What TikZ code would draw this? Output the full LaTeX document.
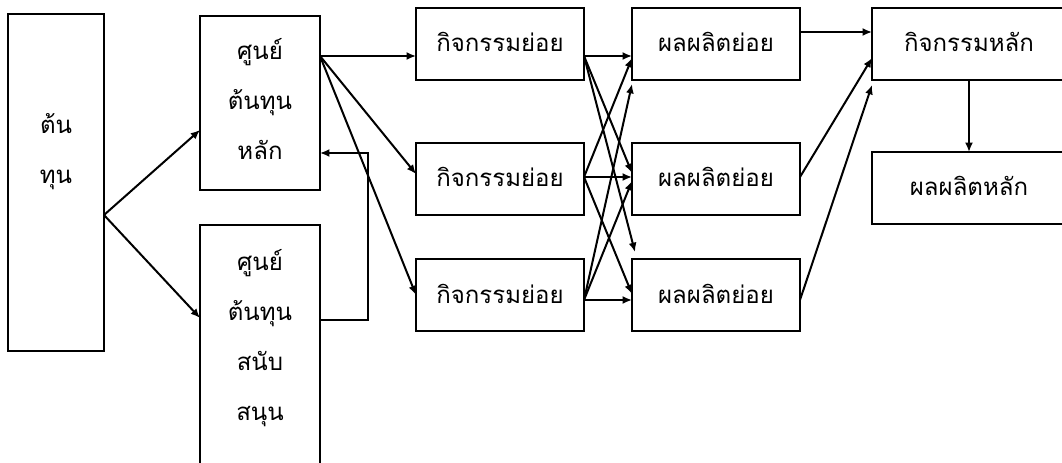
\documentclass[tikz,border=0pt]{standalone}
\usepackage{fontspec}
\newfontfamily\thai[Script=Thai]{Loma}
\usetikzlibrary{shapes,arrows.meta}
\usetikzlibrary{positioning}
\usetikzlibrary{calc}

\begin{document}
\begin{tikzpicture}[x=0.75pt,y=-0.75pt,node distance=36pt,auto,>={Latex[length=7pt,width=6pt]},line width=1.5pt]
\tikzstyle{every node}=[font=\thai\fontsize{18pt}{37.5pt}\selectfont]
\tikzstyle{kong}=[draw,align=center,inner ysep=0pt,outer sep=0pt,text height=33pt,text depth=21pt,minimum width=126pt]
\useasboundingbox (0,0) rectangle (1062,463);
\path node[kong,minimum width=72pt,text height=127.5pt,text depth=125.25pt] (t) at (56,182.5) {ต้น\\ทุน};
\path node[kong,minimum width=90pt,text height=108pt,text depth=22.5pt] (s1) at (260,103) {ศูนย์\\ต้นทุน\\หลัก};
\path node[kong,minimum width=90pt,text height=146.25pt,text depth=75pt,below=26.25pt of s1] (s2) {ศูนย์\\ต้นทุน\\สนับ\\สนุน};
\path[->] ($(t.east)+(0,32.5)$) edge ($(s1.west)+(0,27)$);
\path[->] ($(t.east)+(0,32.5)$) edge ($(s2.north west)+(0,93)$);
\path[->,draw] ($(s2.north east)+(0,95)$) -- +(48,0) |- ($(s1.east)+(0,50)$);

\path node[kong] (k1) at (500,44) {กิจกรรมย่อย};
\path node[kong,below=47.25pt of k1] (k2) {กิจกรรมย่อย};
\path node[kong,below=33pt of k2] (k3) {กิจกรรมย่อย};
\path[->] ($(s1.east)+(0,-47)$) edge ($(k1.west)+(0,12)$);
\path[->] ($(s1.east)+(0,-47)$) edge ($(k2.west)+(0,-5)$);
\path[->] ($(s1.east)+(0,-47)$) edge (k3.west);

\path node[kong,right=36pt of k1] (p1) {ผลผลิตย่อย};
\path node[kong,right=36pt of k2] (p2) {ผลผลิตย่อย};
\path node[kong,right=36pt of k3] (p3) {ผลผลิตย่อย};
\path[->] ($(k1.east)+(0,12)$) edge ($(p1.west)+(0,12)$);
\path[->] ($(k1.east)+(0,12)$) edge ($(p2.west)+(0,-6)$);
\path[->] ($(k1.east)+(0,12)$) edge ($(p3.north west)+(3,-7)$);
\path[->] ($(k2.east)+(0,-2)$) edge ($(p1.west)+(0,14)$);
\path[->] ($(k2.east)+(0,-2)$) edge ($(p2.west)+(0,-2)$);
\path[->] ($(k2.east)+(0,-2)$) edge ($(p3.west)+(0,-1)$);
\path[->] ($(k3.east)+(0,5)$) edge ($(p1.west)+(0,40)$);
\path[->] ($(k3.east)+(0,5)$) edge ($(p2.west)+(0,2)$);
\path[->] ($(k3.east)+(0,5)$) edge ($(p3.west)+(0,5)$);

\path node[kong,minimum width=145.5pt,right=54pt of p1] (f) {กิจกรรมหลัก};
\path node[kong,minimum width=145.5pt,below=54pt of f] (g) {ผลผลิตหลัก};
\path[->] ($(p1.east)+(0,-12)$) edge ($(f.west)+(0,-12)$);
\path[->] ($(p2.east)+(0,-2)$) edge ($(f.west)+(0,14)$);
\path[->] ($(p3.east)+(0,5)$) edge ($(f.west)+(0,41)$);
\path[->] (f) edge (g);
\end{tikzpicture}
\end{document}
